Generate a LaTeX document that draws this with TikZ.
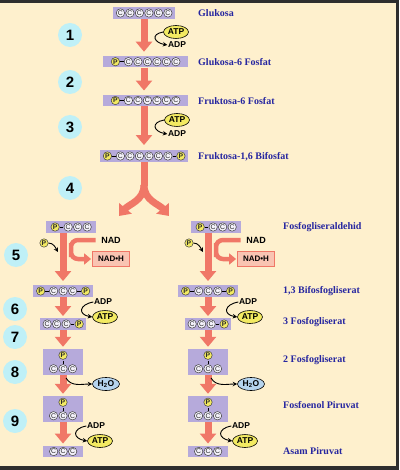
\documentclass[tikz,border=0pt]{standalone}
\usepackage{fontspec}
\setmainfont{Liberation Serif}
\setsansfont{Liberation Sans}
\usepackage{tikz}
\usetikzlibrary{arrows.meta, shapes.geometric}
\definecolor{cPaper}{HTML}{FEF0CD}
\definecolor{cFrame}{HTML}{2E2E2E}
\definecolor{cLav}{HTML}{B6AADB}
\definecolor{cFlow}{HTML}{F07767}
\definecolor{cNadh}{HTML}{F9C4B2}
\definecolor{cLabel}{HTML}{2626A0}
\definecolor{cStep}{HTML}{BFF0F7}
\definecolor{cATP}{HTML}{F3EA62}
\definecolor{cWater}{HTML}{B6D4EE}
\definecolor{cBead}{HTML}{F3F1FA}
\tikzset{
  cbead/.style={circle, draw=black!75, fill=cBead, text=black!85, line width=0.5pt, inner sep=0pt, minimum size=8.4pt, font=\sffamily\fontsize{6.8}{7}\selectfont},
  pbead/.style={cbead, fill=cATP, font=\sffamily\bfseries\fontsize{6.8}{7}\selectfont}
}
\newcommand{\carb}{\hspace{0.3pt}\tikz[baseline=(b.base)]\node[cbead] (b) {C};\hspace{0.3pt}}
\newcommand{\phos}{\hspace{0.3pt}\tikz[baseline=(b.base)]\node[pbead] (b) {P};\hspace{0.3pt}}
\newcommand{\bond}{\rule[2pt]{3.5pt}{0.8pt}}
\newcommand{\ponc}{\vbox{\offinterlineskip\halign{\hfil##\hfil\cr\phos\cr\noalign{\kern0.8pt}\rule{0.6pt}{3pt}\cr\noalign{\kern0.8pt}\carb\carb\carb\cr}}}

\begin{document}
\begin{tikzpicture}[x=1pt, y=1pt,
  mol/.style={fill=cLav, inner xsep=2.5pt, inner ysep=1.3pt, minimum height=11pt},
  tallmol/.style={mol, minimum width=40pt, minimum height=26pt, inner sep=1pt},
  lbl/.style={anchor=west, inner sep=0pt, text=cLabel, font=\bfseries\fontsize{10}{12}\selectfont},
  stepc/.style={circle, fill=cStep, minimum size=24pt, inner sep=0pt, font=\sffamily\bfseries\fontsize{15}{15}\selectfont},
  atp/.style={ellipse, draw=black, line width=0.6pt, fill=cATP, inner sep=0pt, minimum width=25pt, minimum height=13pt, font=\sffamily\bfseries\fontsize{8.5}{9}\selectfont},
  water/.style={atp, fill=cWater, minimum width=27pt},
  adp/.style={inner sep=0.5pt, font=\sffamily\bfseries\fontsize{8.5}{9}\selectfont},
  nadh/.style={draw=cFlow, fill=cNadh, line width=0.8pt, minimum width=37pt, minimum height=15pt, inner sep=0pt, font=\sffamily\bfseries\fontsize{8}{9}\selectfont},
  flowarr/.style={draw=cFlow, line width=7pt, -{Triangle[width=16pt, length=10pt]}},
  nadarr/.style={draw=cFlow, line width=4.5pt, rounded corners=7pt, -{Triangle[width=11pt, length=7pt]}},
  curly/.style={draw=black, line width=0.9pt, -{Stealth[length=4.5pt, width=4.5pt]}}
]
% paper and frame
\useasboundingbox (0,0) rectangle (399,-470);
\fill[cFrame] (0,0) rectangle (399,-470);
\fill[cPaper] (0,-3) rectangle (396,-466);

% step numbers
\node[stepc] (s1) at (70,-35) {1};
\node[stepc] (s2) at (70,-82) {2};
\node[stepc] (s3) at (70,-127) {3};
\node[stepc] (s4) at (70,-188) {4};
\node[stepc] (s5) at (16,-255) {5};
\node[stepc] (s6) at (15,-309) {6};
\node[stepc] (s7) at (15,-337) {7};
\node[stepc] (s8) at (15,-372) {8};
\node[stepc] (s9) at (15,-421) {9};

% six carbon part
\node[mol, minimum width=62pt] (glu) at (144,-13) {\carb\carb\carb\carb\carb\carb};
\node[mol, minimum width=85pt] (g6p) at (145.5,-61.7) {\phos\bond\carb\carb\carb\carb\carb\carb};
\node[mol, minimum width=85pt] (f6p) at (145.5,-100.5) {\phos\bond\carb\carb\carb\carb\carb\carb};
\node[mol, minimum width=87pt] (f16) at (144,-156) {\phos\bond\carb\carb\carb\carb\carb\carb\bond\phos};
\node[lbl] (lglu) at (198,-13.3) {Glukosa};
\node[lbl] (lg6p) at (198,-62) {Glukosa-6 Fosfat};
\node[lbl] (lf6p) at (198,-101.5) {Fruktosa-6 Fosfat};
\node[lbl] (lf16) at (198,-156.5) {Fruktosa-1,6 Bifosfat};
\draw[flowarr, shorten >=4pt] (glu.south) -- (g6p.north -| glu.south);
\draw[flowarr, shorten >=4pt] (g6p.south -| glu.south) -- (f6p.north -| glu.south);
\draw[flowarr, shorten >=5pt] (f6p.south -| glu.south) -- (f16.north -| glu.south);
\node[atp] (atp1) at (176,-32) {ATP};
\node[adp] (adp1) at (177,-45) {ADP};
\draw[curly] (atp1.west) to[out=190, in=170, looseness=2.5] (adp1.west);
\node[atp] (atp3) at (177,-120) {ATP};
\node[adp] (adp3) at (177,-134) {ADP};
\draw[curly] (atp3.west) to[out=190, in=170, looseness=2.5] (adp3.west);

% split into two trioses
\coordinate (fork) at (144,-185);
\coordinate (forkL) at (119,-216);
\coordinate (forkR) at (169,-216);
\draw[draw=cFlow, line width=7pt] (f16.south -| glu.south) -- ([yshift=-1pt]fork);
\draw[flowarr] (fork) to[out=-90, in=50] (forkL);
\draw[flowarr] (fork) to[out=-90, in=130] (forkR);

\node[lbl] (lgal) at (283,-227) {Fosfogliseraldehid};
\node[lbl] (lbpg) at (283,-291) {1,3 Bifosfogliserat};
\node[lbl] (lpg3) at (283,-322.5) {3 Fosfogliserat};
\node[lbl] (lpg2) at (283,-360) {2 Fosfogliserat};
\node[lbl] (lpep) at (283,-405) {Fosfoenol Piruvat};
\node[lbl] (lpyr) at (283,-451.5) {Asam Piruvat};

% three carbon part, twice
\foreach \s/\dx in {L/0, R/145} {
  \node[mol, minimum width=50pt] (gal\s) at ({71+\dx},-227) {\phos\bond\carb\carb\carb};
  \node[mol] (bpg\s) at ({63+\dx},-291) {\phos\bond\carb\carb\carb\bond\phos};
  \node[mol] (pg3\s) at ({63+\dx},-324) {\carb\carb\carb\bond\phos};
  \node[tallmol] (pg2\s) at ({63+\dx},-362) {\ponc};
  \node[tallmol] (pep\s) at ({63+\dx},-409) {\ponc};
  \node[mol, minimum width=40pt] (pyr\s) at ({63+\dx},-451.5) {\carb\carb\carb};
  \draw[flowarr, shorten >=4pt] (gal\s.south -| bpg\s.north) -- (bpg\s.north);
  \draw[flowarr, shorten >=2pt] (bpg\s.south) -- (pg3\s.north);
  \draw[flowarr, shorten >=2pt] (pg3\s.south) -- (pg2\s.north);
  \draw[flowarr, shorten >=2pt] (pg2\s.south) -- (pep\s.north);
  \draw[flowarr, shorten >=2pt] (pep\s.south) -- (pyr\s.north);
  % step 5
  \node[pbead] (pin\s) at ({44+\dx},-243) {P};
  \coordinate (pinT\s) at ({58+\dx},-252);
  \draw[curly] (pin\s.east) to[out=0, in=120] (pinT\s);
  \node[adp, font=\sffamily\bfseries\fontsize{9}{10}\selectfont] (nad\s) at ({111+\dx},-240) {NAD};
  \node[nadh] (nadh\s) at ({111+\dx},-259) {NAD•H};
  \coordinate (nadk\s) at ({71+\dx},-250);
  \draw[nadarr] ([xshift=-5pt]nad\s.west) -| (nadk\s) |- ([xshift=-1pt]nadh\s.west);
  % step 6
  \node[adp] (adp6\s) at ({103+\dx},-302) {ADP};
  \node[atp] (atp6\s) at ({105+\dx},-317) {ATP};
  \draw[curly] (adp6\s.west) to[out=190, in=170, looseness=2.5] (atp6\s.west);
  % step 8
  \node[water] (h2o\s) at ({106+\dx},-384) {H\textsubscript{2}O};
  \coordinate (h2oT\s) at ({66+\dx},-378);
  \draw[curly] (h2oT\s) to[out=-60, in=180] (h2o\s.west);
  % step 9
  \node[adp] (adp9\s) at ({96+\dx},-426) {ADP};
  \node[atp] (atp9\s) at ({100+\dx},-441) {ATP};
  \draw[curly] (adp9\s.west) to[out=190, in=170, looseness=2.5] (atp9\s.west);
}
\end{tikzpicture}
\end{document}
